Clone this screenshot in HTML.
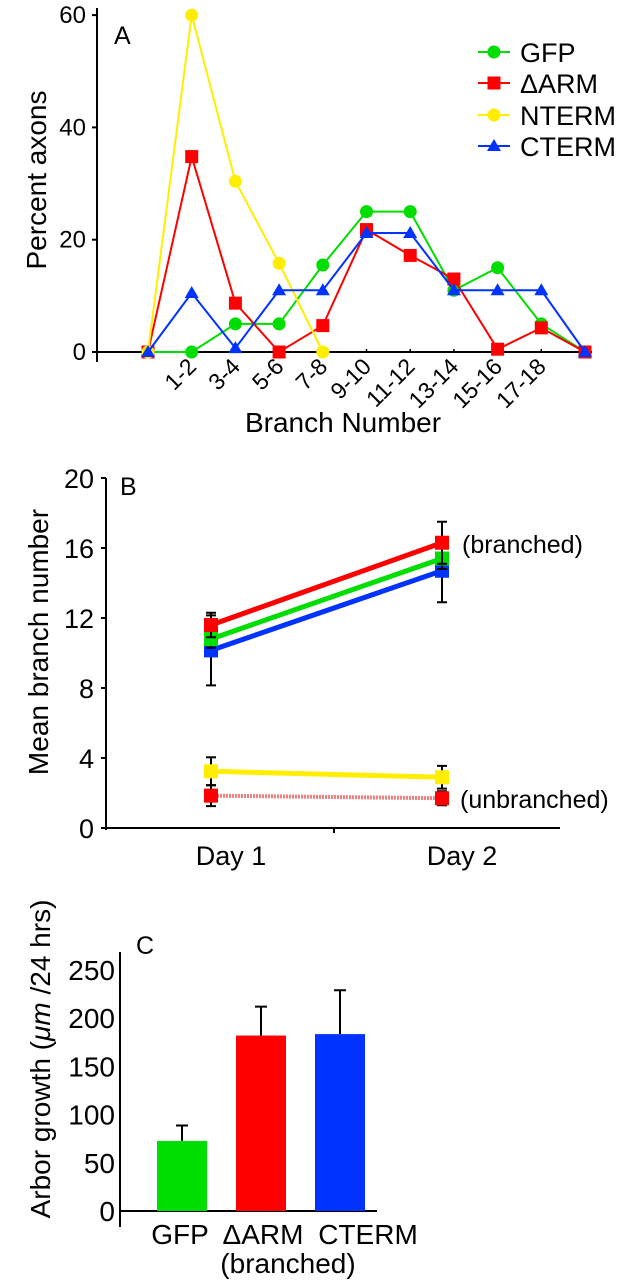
<!DOCTYPE html>
<html><head><meta charset="utf-8"><style>
html,body{margin:0;padding:0;background:#fff;}
svg{display:block;font-family:"Liberation Sans",sans-serif;}
</style></head><body>
<svg id="fig" width="620" height="1280" viewBox="0 0 620 1280">
<g id="pa"></g>
<g id="pb"></g>
<g id="pc"></g>
</svg>
<script>
// Panel A data
const aCats = ["", "1-2", "3-4", "5-6", "7-8", "9-10", "11-12", "13-14", "15-16", "17-18", ""];
const aGFP = [0, 0, 5, 5, 15.5, 25, 25, 11, 15, 5, 0];
const aARM = [0, 34.8, 8.7, 0, 4.7, 21.8, 17.2, 13, 0.5, 4.3, 0];
const aNTERM = [0, 60, 30.4, 15.8, 0];
const aCTERM = [0, 10.5, 0.7, 11, 11, 21.2, 21.2, 11, 11, 11, 0];
const aYTicks = [0, 20, 40, 60];
// Panel B data
const bDays = ["Day 1", "Day 2"];
const bARM = [11.6, 16.3];
const bGFP = [10.8, 15.4];
const bCTERM = [10.15, 14.7];
const bNTERM = [3.24, 2.9];
const bARMun = [1.85, 1.7];
const bErrARM = [0.7, 1.2];
const bErrGFP = [0.5, 0.6];
const bErrCTERM = [2.0, 1.8];
const bErrNTERM = [0.8, 0.65];
const bErrARMun = [0.6, 0.4];
const bYTicks = [0, 4, 8, 12, 16, 20];
// Panel C data
const cCats = ["GFP", "\u0394ARM", "CTERM"];
const cVals = [72.7, 182, 183.5];
const cErr = [16, 30, 45.5];
const cYTicks = [0, 50, 100, 150, 200, 250];

const NS = "http://www.w3.org/2000/svg";
function mk(parent, tag, attrs, text) {
  const e = document.createElementNS(NS, tag);
  for (const k in attrs) e.setAttribute(k, attrs[k]);
  if (text !== undefined) e.textContent = text;
  parent.appendChild(e);
  return e;
}
const GREEN = "#00dd00", RED = "#ff0000", YEL = "#ffee00", BLUE = "#0033ff";

// ---------- Panel A ----------
(function () {
  const g = document.getElementById("pa");
  const x = i => 148 + i * 43.7;
  const y = v => 352 - v * 112.3 / 20;
  let e = mk(g, "line", {x1: 97, y1: 8, x2: 97, y2: 362, stroke: "#000", "stroke-width": 2});
   
  e = mk(g, "line", {x1: 97, y1: 352, x2: 592, y2: 352, stroke: "#000", "stroke-width": 2});
   
  aYTicks.forEach(t => {
    e = mk(g, "text", {x: 86, y: y(t) + 8, "font-size": 24, "text-anchor": "end"}, String(t));
     
    mk(g, "line", {x1: 92, y1: y(t), x2: 97, y2: y(t), stroke: "#000", "stroke-width": 2});
  });
  aCats.forEach((c, i) => {
    mk(g, "line", {x1: x(i), y1: 349, x2: x(i), y2: 352, stroke: "#000", "stroke-width": 1.5});
    if (c) {
      e = mk(g, "text", {x: x(i) + 6, y: 368, "font-size": 23, "text-anchor": "end", transform: `rotate(-45 ${x(i) + 6} 368)`}, c);
       
    }
  });
  e = mk(g, "text", {x: 343, y: 432, "font-size": 28, "text-anchor": "middle"}, "Branch Number");
   
  e = mk(g, "text", {x: 0, y: 0, "font-size": 28, "text-anchor": "middle", transform: "translate(46 180) rotate(-90)"}, "Percent axons");
   
  e = mk(g, "text", {x: 114, y: 44, "font-size": 25}, "A");
   

  function marker(p, type, cx, cy, col) {
    if (type === "c") return mk(p, "circle", {cx, cy, r: 6.5, fill: col});
    if (type === "s") return mk(p, "rect", {x: cx - 6.5, y: cy - 6.5, width: 13, height: 13, fill: col});
    return mk(p, "polygon", {points: `${cx},${cy - 7} ${cx - 7},${cy + 5} ${cx + 7},${cy + 5}`, fill: col});
  }
  const series = [
    ["gfp", aGFP, GREEN, "c"], ["arm", aARM, RED, "s"], ["nterm", aNTERM, YEL, "c"], ["cterm", aCTERM, BLUE, "t"]
  ];
  series.forEach(([nm, d, col, type]) => {
    const sg = mk(g, "g", {});
     
    mk(sg, "polyline", {points: d.map((v, i) => x(i) + "," + y(v)).join(" "), fill: "none", stroke: col, "stroke-width": 2});
    d.forEach((v, i) => {
      const m = marker(sg, type, x(i), y(v), col);
       
    });
  });
  const leg = [["GFP", GREEN, "c", 52], ["\u0394ARM", RED, "s", 83], ["NTERM", YEL, "c", 115], ["CTERM", BLUE, "t", 146]];
  leg.forEach(([lab, col, type, ly]) => {
    const lg = mk(g, "g", {});
     
    mk(lg, "line", {x1: 478, y1: ly, x2: 510, y2: ly, stroke: col, "stroke-width": 2});
    marker(lg, type, 494, ly, col);
    mk(lg, "text", {x: 520, y: ly + 10, "font-size": 27}, lab);
  });
})();

// ---------- Panel B ----------
(function () {
  const g = document.getElementById("pb");
  const x = i => 211 + i * 231;
  const y = v => 828 - v * 70 / 4;
  let e = mk(g, "line", {x1: 106, y1: 478, x2: 106, y2: 830, stroke: "#000", "stroke-width": 2});
   
  e = mk(g, "line", {x1: 106, y1: 828, x2: 560, y2: 828, stroke: "#000", "stroke-width": 2});
   
  mk(g, "line", {x1: 334, y1: 828, x2: 334, y2: 833, stroke: "#000", "stroke-width": 2});
  bYTicks.forEach(t => {
    e = mk(g, "text", {x: 94, y: y(t) + 10, "font-size": 27, "text-anchor": "end"}, String(t));
     
    mk(g, "line", {x1: 101, y1: y(t), x2: 106, y2: y(t), stroke: "#000", "stroke-width": 2});
  });
  bDays.forEach((d, i) => {
    e = mk(g, "text", {x: x(i) + 20, y: 865, "font-size": 27, "text-anchor": "middle"}, d);
     
  });
  e = mk(g, "text", {x: 0, y: 0, "font-size": 28, "text-anchor": "middle", transform: "translate(48 642) rotate(-90)"}, "Mean branch number");
   
  e = mk(g, "text", {x: 120, y: 495, "font-size": 25}, "B");
   
  const series = [
    ["arm-unbranched", bARMun, bErrARMun, RED, true],
    ["nterm", bNTERM, bErrNTERM, YEL, false],
    ["cterm", bCTERM, bErrCTERM, BLUE, false],
    ["gfp", bGFP, bErrGFP, GREEN, false],
    ["arm", bARM, bErrARM, RED, false]
  ];
  series.forEach(([nm, d, er, col, dotted]) => {
    const sg = mk(g, "g", {});
     
    d.forEach((v, i) => {
      mk(sg, "line", {x1: x(i), y1: y(v + er[i]), x2: x(i), y2: y(v - er[i]), stroke: "#000", "stroke-width": 2});
      mk(sg, "line", {x1: x(i) - 5, y1: y(v + er[i]), x2: x(i) + 5, y2: y(v + er[i]), stroke: "#000", "stroke-width": 2});
      mk(sg, "line", {x1: x(i) - 5, y1: y(v - er[i]), x2: x(i) + 5, y2: y(v - er[i]), stroke: "#000", "stroke-width": 2});
    });
    mk(sg, "line", {x1: x(0), y1: y(d[0]), x2: x(1), y2: y(d[1]), stroke: dotted ? "#f08080" : col, "stroke-width": dotted ? 4 : 5, "stroke-dasharray": dotted ? "2 1" : "none"});
    d.forEach((v, i) => {
      const m = mk(sg, "rect", {x: x(i) - 7, y: y(v) - 7, width: 14, height: 14, fill: col});
       
    });
  });
  e = mk(g, "text", {x: 462, y: 553, "font-size": 25}, "(branched)");
   
  e = mk(g, "text", {x: 460, y: 808, "font-size": 25}, "(unbranched)");
   
})();

// ---------- Panel C ----------
(function () {
  const g = document.getElementById("pc");
  const x = i => 182 + i * 79;
  const y = v => 1211 - v * 48.2 / 50;
  let e = mk(g, "line", {x1: 120, y1: 952, x2: 120, y2: 1227, stroke: "#000", "stroke-width": 2});
   
  e = mk(g, "line", {x1: 120, y1: 1211, x2: 377, y2: 1211, stroke: "#000", "stroke-width": 2});
   
  cYTicks.forEach(t => {
    e = mk(g, "text", {x: 115, y: y(t) + 10, "font-size": 28, "text-anchor": "end"}, String(t));
     
  });
  const labX = [180, 263, 368];
  cVals.forEach((v, i) => {
    const col = [GREEN, RED, BLUE][i];
    const top = y(v + cErr[i]);
    mk(g, "line", {x1: x(i), y1: top, x2: x(i), y2: y(v), stroke: "#000", "stroke-width": 2});
    mk(g, "line", {x1: x(i) - 6, y1: top, x2: x(i) + 6, y2: top, stroke: "#000", "stroke-width": 2});
    e = mk(g, "rect", {x: x(i) - 25, y: y(v), width: 50, height: y(0) - y(v), fill: col});
     
    e = mk(g, "text", {x: labX[i], y: 1244, "font-size": 28, "text-anchor": "middle"}, cCats[i]);
     
  });
  e = mk(g, "text", {x: 288, y: 1273, "font-size": 28, "text-anchor": "middle"}, "(branched)");
   
  e = mk(g, "text", {x: 136, y: 954, "font-size": 25}, "C");
   
  e = mk(g, "text", {x: 0, y: 0, "font-size": 28, "text-anchor": "middle", transform: "translate(50 1059) rotate(-90)"});
   
  mk(e, "tspan", {}, "Arbor growth (");
  mk(e, "tspan", {"font-style": "italic"}, "\u03bcm");
  mk(e, "tspan", {}, " /24 hrs)");
})();
</script>
</body></html>
